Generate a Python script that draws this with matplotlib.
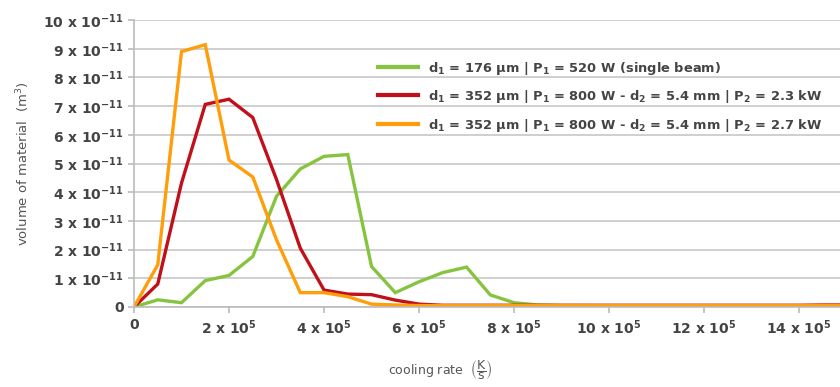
import matplotlib
matplotlib.use("Agg")
import matplotlib.pyplot as plt

plt.rcParams['font.family'] = ['DejaVu Sans']
plt.rcParams['mathtext.fontset'] = 'dejavusans'

# cooling rate in units of 1e5 K/s
rate = [0, 0.5, 1, 1.5, 2, 2.5, 3, 3.5, 4, 4.5, 5, 5.5, 6, 6.5, 7, 7.5, 8, 8.5, 9, 9.5,
        10, 10.5, 11, 11.5, 12, 12.5, 13, 13.5, 14, 14.5, 15]
# volume of material in units of 1e-11 m^3
single = [0, 0.25, 0.15, 0.92, 1.1, 1.76, 3.86, 4.81, 5.25, 5.31, 1.41, 0.5, 0.88, 1.2, 1.39,
          0.42, 0.15, 0.07, 0.05, 0.05, 0.04, 0.03, 0.03, 0.03, 0.03, 0.03, 0.03, 0.03, 0.03, 0.03, 0.03]
dual23 = [0, 0.8, 4.32, 7.06, 7.24, 6.6, 4.44, 2.05, 0.59, 0.45, 0.43, 0.24, 0.1, 0.06, 0.06,
          0.06, 0.06, 0.06, 0.06, 0.06, 0.06, 0.06, 0.06, 0.06, 0.06, 0.06, 0.06, 0.06, 0.06, 0.07, 0.07]
dual27 = [0, 1.47, 8.9, 9.14, 5.12, 4.53, 2.34, 0.5, 0.5, 0.36, 0.1, 0.07, 0.05, 0.05, 0.05,
          0.05, 0.05, 0.05, 0.05, 0.05, 0.05, 0.05, 0.05, 0.05, 0.05, 0.05, 0.05, 0.05, 0.05, 0.05, 0.05]

labels = [r'd$_\mathbf{1}$ = 176 µm | P$_\mathbf{1}$ = 520 W (single beam)',
          r'd$_\mathbf{1}$ = 352 µm | P$_\mathbf{1}$ = 800 W - d$_\mathbf{2}$ = 5.4 mm | P$_\mathbf{2}$ = 2.3 kW',
          r'd$_\mathbf{1}$ = 352 µm | P$_\mathbf{1}$ = 800 W - d$_\mathbf{2}$ = 5.4 mm | P$_\mathbf{2}$ = 2.7 kW']
colors = ['#86c440', '#c0101a', '#ff9d0a']

xticks = [0, 2, 4, 6, 8, 10, 12, 14]
yticks = [0, 1, 2, 3, 4, 5, 6, 7, 8, 9, 10]

fig = plt.figure(figsize=(8.4, 3.87), dpi=100)
ax = fig.add_axes([134 / 840, 1 - 307 / 387, 706 / 840, 287 / 387])

for ys, c, lab in zip([single, dual23, dual27], colors, labels):
    ax.plot(rate, ys, color=c, lw=2.4, label=lab, solid_joinstyle='miter')

ax.set_xlim(0, 14.86)
ax.set_ylim(0, 10)
ax.set_xticks(xticks)
ax.set_xticklabels(['0'] + [r'%d x 10$^\mathbf{5}$' % t for t in xticks[1:]])
ax.set_yticks(yticks)
ax.set_yticklabels(['0'] + [r'%d x 10$^\mathbf{-11}$' % t for t in yticks[1:]])

tick_col = '#444444'
for lab in ax.get_xticklabels() + ax.get_yticklabels():
    lab.set_fontweight('bold')
    lab.set_fontsize(10)
    lab.set_color(tick_col)

ax.grid(axis='y', color='#cccccc', lw=1.3)
ax.set_axisbelow(True)
for s in ['top', 'right']:
    ax.spines[s].set_visible(False)
for s in ['left', 'bottom']:
    ax.spines[s].set_color('#bbbbbb')
    ax.spines[s].set_linewidth(1.2)
ax.tick_params(axis='both', color='#bbbbbb', length=4, width=1.2)
ax.tick_params(axis='x', pad=4)

ax.set_ylabel('volume of material  (m$^3$)', fontsize=9.5, color='#555555', labelpad=8)
fig.text(440 / 840, 1 - 370 / 387, r'cooling rate  $\left(\dfrac{\mathrm{K}}{\mathrm{s}}\right)$',
         fontsize=9, color='#555555', ha='center', va='center')

leg = ax.legend(loc='upper left', bbox_to_anchor=(372 / 840, 1 - 54 / 387),
                bbox_transform=fig.transFigure, frameon=False, handlelength=2.9,
                handletextpad=0.7, labelspacing=0.85, borderaxespad=0)
for t in leg.get_texts():
    t.set_fontweight('bold')
    t.set_fontsize(9.4)
    t.set_color('#444444')
for h in leg.get_lines():
    h.set_linewidth(3)

fig.savefig('out.png', dpi=100)
